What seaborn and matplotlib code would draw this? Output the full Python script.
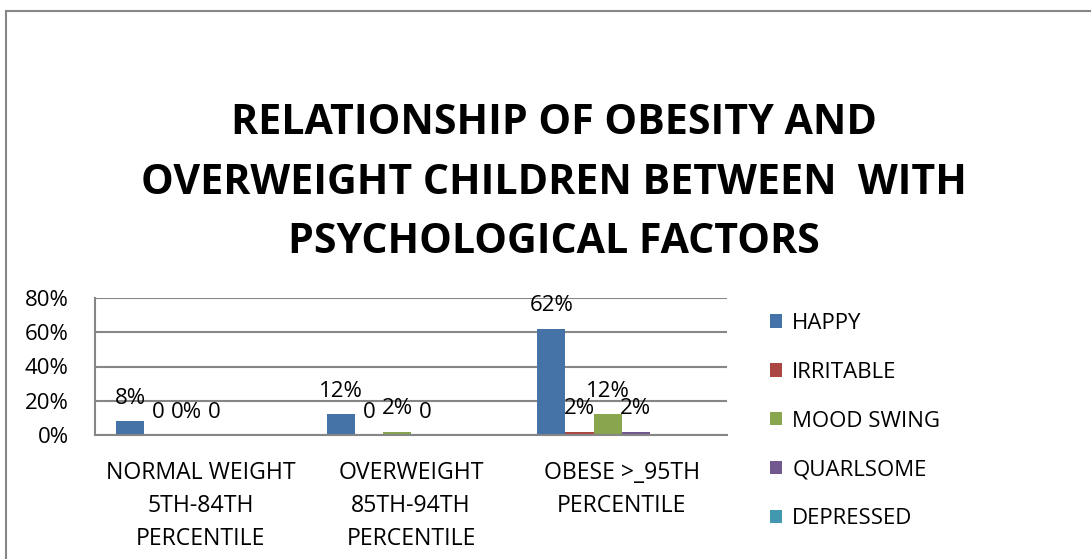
import matplotlib
matplotlib.use("Agg")
import matplotlib.pyplot as plt
from matplotlib.patches import Rectangle
from matplotlib.ticker import PercentFormatter
import numpy as np
import pandas as pd
import seaborn as sns

# Data
categories = ["NORMAL WEIGHT\n5TH-84TH\nPERCENTILE",
              "OVERWEIGHT\n85TH-94TH\nPERCENTILE",
              "OBESE >_95TH\nPERCENTILE"]
series = ["HAPPY", "IRRITABLE", "MOOD SWING", "QUARLSOME", "DEPRESSED"]
happy = [0.08, 0.12, 0.62]
irritable = [0.0, 0.0, 0.02]
mood_swing = [0.0, 0.02, 0.12]
quarlsome = [0.0, 0.0, 0.02]
depressed = [0.0, 0.0, 0.0]
# the original sheet has an empty sixth series that still takes a slot
blank = [0.0, 0.0, 0.0]
# data labels as printed on the chart (depressed has none)
labels = {
    "HAPPY": ["8%", "12%", "62%"],
    "IRRITABLE": ["0", "0", "2%"],
    "MOOD SWING": ["0%", "2%", "12%"],
    "QUARLSOME": ["0", "0", "2%"],
    "DEPRESSED": ["", "", ""],
    " ": ["", "", ""],
}
colors = ["#4572A7", "#AA4643", "#89A54E", "#71588F", "#4198AF", "#DB843D"]

all_series = series + [" "]
values = [happy, irritable, mood_swing, quarlsome, depressed, blank]
rows = []
for s, vals in zip(all_series, values):
    for c, v in zip(categories, vals):
        rows.append({"category": c, "series": s, "value": v})
df = pd.DataFrame(rows)

sns.set_style("white")
plt.rcParams["font.family"] = ["Open Sans", "DejaVu Sans"]
plt.rcParams["text.color"] = "black"
plt.rcParams["xtick.color"] = "black"
plt.rcParams["ytick.color"] = "black"

fig = plt.figure(figsize=(10.91, 5.59), dpi=100)
ax = fig.add_axes([95 / 1091, 124 / 559, 632 / 1091, 137 / 559])

sns.barplot(data=df, x="category", y="value", hue="series", order=categories,
            hue_order=all_series, palette=colors, width=0.8, linewidth=0,
            saturation=1, ax=ax)

for cont, s in zip(ax.containers, all_series):
    ax.bar_label(cont, labels=labels[s], padding=9, fontsize=16)

ax.set_ylim(0, 0.8)
ax.set_xlim(-0.5, 2.5)
ax.set_yticks(np.arange(0, 0.81, 0.2))
ax.yaxis.set_major_formatter(PercentFormatter(1.0, decimals=0))
ax.grid(axis="y", color="#868686", linewidth=1.5)
ax.set_axisbelow(True)
for side in ["top", "right"]:
    ax.spines[side].set_visible(False)
for side in ["left", "bottom"]:
    ax.spines[side].set_color("#868686")
    ax.spines[side].set_linewidth(1.5)
ax.tick_params(axis="both", length=0, labelsize=16)
ax.tick_params(axis="x", labelsize=16.6, pad=19)
ax.tick_params(axis="y", pad=19)
ax.set_xlabel("")
ax.set_ylabel("")
for t in ax.get_xticklabels():
    t.set_linespacing(1.5)

handles, names = ax.get_legend_handles_labels()
ax.legend(handles[:5], names[:5], loc="upper left",
          bbox_to_anchor=(770 / 1091, 1 - 313 / 559), bbox_transform=fig.transFigure,
          frameon=False, fontsize=16, handlelength=0.55, handleheight=0.55,
          handletextpad=0.45, labelspacing=1.25, borderaxespad=0, borderpad=0)

fig.text(0.508, 1 - 183 / 559,
         "RELATIONSHIP OF OBESITY AND\nOVERWEIGHT CHILDREN BETWEEN  WITH\nPSYCHOLOGICAL FACTORS",
         ha="center", va="center", fontsize=29.6, fontweight="bold", linespacing=1.6)

fig.patches.append(Rectangle((6 / 1091, -0.1), 2, (548 / 559) + 0.1, transform=fig.transFigure,
                             fill=False, edgecolor="#868686", linewidth=1.5))

fig.savefig("out.png", dpi=100)
